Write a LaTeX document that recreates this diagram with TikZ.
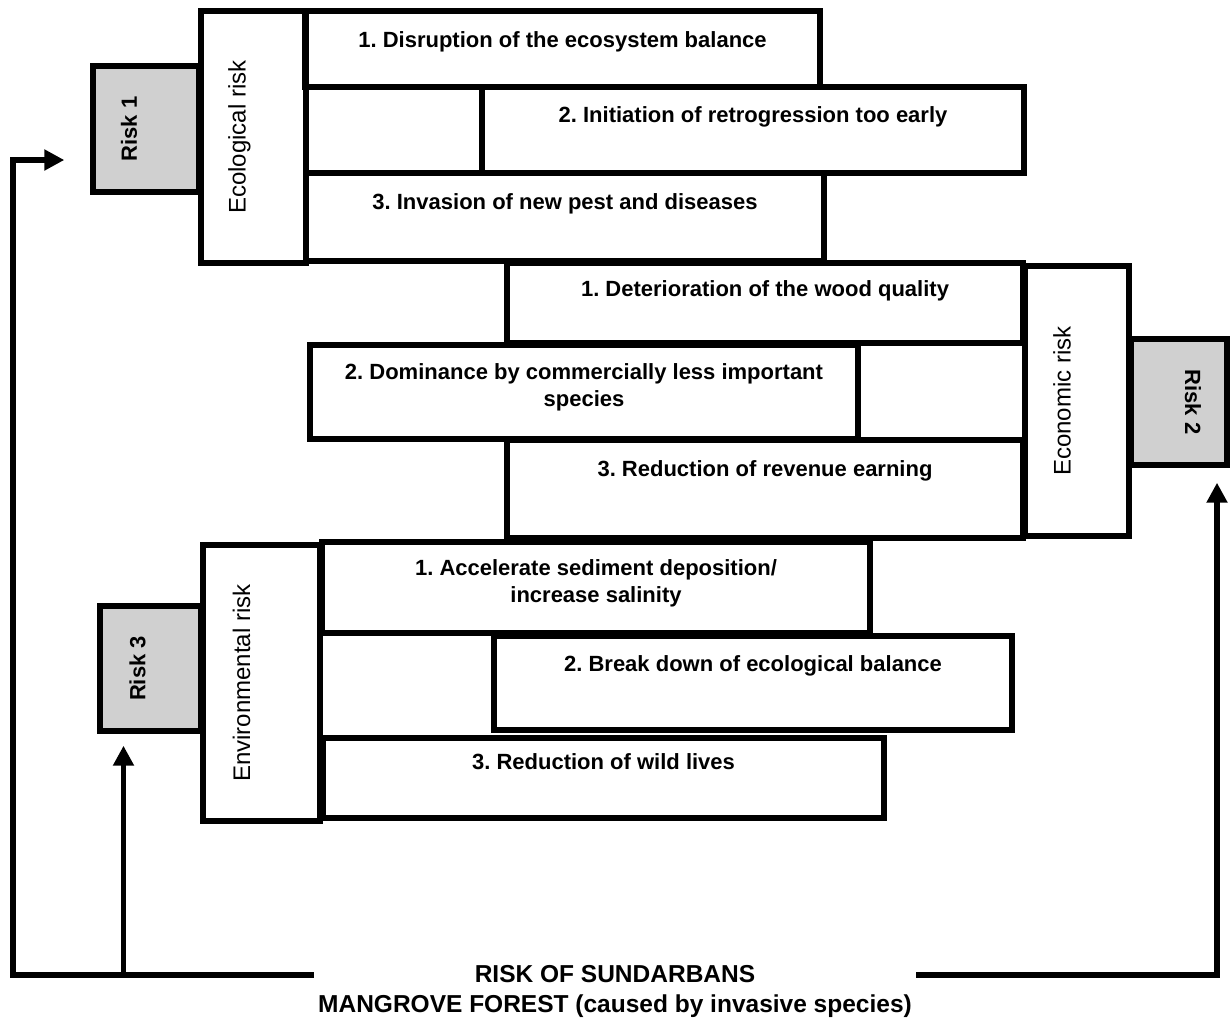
\documentclass[tikz,border=0pt]{standalone}
\usepackage{fontspec}
\setmainfont{Liberation Sans}
\usetikzlibrary{positioning,arrows.meta}
\definecolor{riskgray}{RGB}{208,208,208}
\frenchspacing

\begin{document}
\begin{tikzpicture}[x=0.5pt,y=-0.5pt,
        box/.style={draw, line width=2.7pt, inner sep=0pt},
        riskbox/.style={box, fill=riskgray},
        celltext/.style={font=\bfseries\fontsize{11}{13.2}\selectfont, align=center, inner sep=0pt},
        sidetext/.style={font=\fontsize{12}{14.4}\selectfont, inner sep=0pt, rotate=90},
        risktext/.style={font=\bfseries\fontsize{11}{13.2}\selectfont, inner sep=0pt},
        flow/.style={line width=2.7pt, -{Triangle[length=10pt,width=10pt]}}]
        \useasboundingbox (0,0) rectangle (1230,1019);

        \node[riskbox, minimum width=53pt, minimum height=63pt] (risk1) at (146,129) {};
        \node[box, minimum width=52.5pt, minimum height=126pt] (eco) at (253.5,137) {};
        \node[box, minimum width=257.5pt, minimum height=38pt] (eco1) at (562.5,49) {};
        \node[box, minimum width=271pt, minimum height=43pt] (eco2) at (753,130) {};
        \node[box, minimum width=259pt, minimum height=44pt] (eco3) at (565,217) {};
        \node[risktext, rotate=90] (risk1t) at ([xshift=-8.5pt]risk1.center) {Risk 1};
        \node[sidetext] (ecot) at ([xshift=-7pt]eco.center) {Ecological risk};
        \node[celltext, below=11.5pt of eco1.north] (eco1t) {1. Disruption of the ecosystem balance};
        \node[celltext, below=11pt of eco2.north] (eco2t) {2. Initiation of retrogression too early};
        \node[celltext, below=11.5pt of eco3.north] (eco3t) {3. Invasion of new pest and diseases};

        \node[riskbox, minimum width=48pt, minimum height=63pt] (risk2) at (1179,402) {};
        \node[box, minimum width=52pt, minimum height=135pt] (econ) at (1077,401) {};
        \node[box, minimum width=258pt, minimum height=40pt] (econ1) at (765,303) {};
        \node[box, minimum width=274pt, minimum height=47pt] (econ2) at (584,392) {};
        \node[box, minimum width=258pt, minimum height=49pt] (econ3) at (765,489) {};
        \node[risktext, rotate=-90] (risk2t) at ([xshift=7pt]risk2.center) {Risk 2};
        \node[sidetext] (econt) at ([xshift=-7.5pt]econ.center) {Economic risk};
        \node[celltext, below=10pt of econ1.north] (econ1t) {1. Deterioration of the wood quality};
        \node[celltext, below=10.5pt of econ2.north] (econ2t) {2. Dominance by commercially less important\\species};
        \node[celltext, below=11.5pt of econ3.north] (econ3t) {3. Reduction of revenue earning};

        \node[riskbox, minimum width=50.5pt, minimum height=62.5pt] (risk3) at (150.5,668.5) {};
        \node[box, minimum width=58.5pt, minimum height=138pt] (env) at (261.5,683) {};
        \node[box, minimum width=274pt, minimum height=45.5pt] (env1) at (596,587.5) {};
        \node[box, minimum width=259pt, minimum height=47pt] (env2) at (753,683) {};
        \node[box, minimum width=280.5pt, minimum height=40pt] (env3) at (603.5,778) {};
        \node[risktext, rotate=90] (risk3t) at ([xshift=-6.5pt]risk3.center) {Risk 3};
        \node[sidetext] (envt) at ([xshift=-10pt]env.center) {Environmental risk};
        \node[celltext, below=10pt of env1.north] (env1t) {1. Accelerate sediment deposition/\\increase salinity};
        \node[celltext, below=11pt of env2.north] (env2t) {2. Break down of ecological balance};
        \node[celltext, below=9pt of env3.north] (env3t) {3. Reduction of wild lives};

        \node[font=\bfseries\fontsize{12.25}{15}\selectfont, align=center, inner sep=2pt] (title) at (615,991.5)
            {RISK OF SUNDARBANS\\MANGROVE FOREST (caused by invasive species)};
        \coordinate (cornl) at (13,975);
        \coordinate (cornr) at (1217,975);
        \draw[flow] (title.west |- cornl) -- (cornl) |- ([xshift=-13pt,yshift=-15.5pt]risk1.west);
        \draw[flow] ([xshift=-13.5pt]risk3.south |- cornl) -- ([xshift=-13.5pt,yshift=-6pt]risk3.south);
        \draw[flow] (title.east |- cornr) -- (cornr) -- ([yshift=-7.5pt]cornr |- risk2.south);
    \end{tikzpicture}
\end{document}
